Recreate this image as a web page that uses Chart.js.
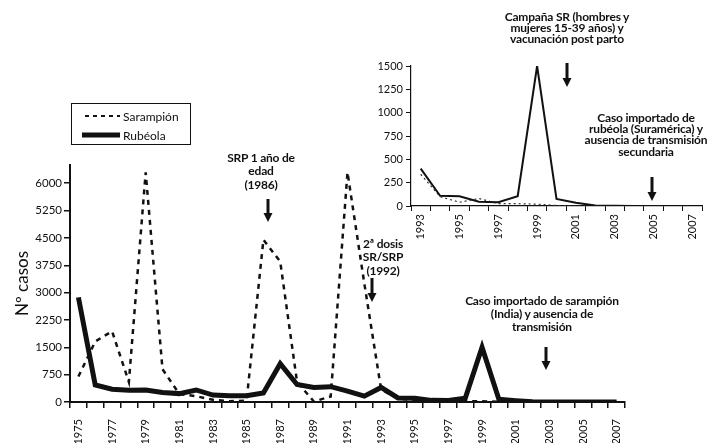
<!DOCTYPE html>
<html>
<head>
<meta charset="utf-8">
<script src="https://cdn.jsdelivr.net/npm/chart.js@4.4.1/dist/chart.umd.min.js"></script>
<style>
  body { margin: 0; background: #fff; }
  #wrap { position: relative; width: 722px; height: 443px; font-family: Lato, "Open Sans", sans-serif; color: #111; overflow: hidden; }
  #main { position: absolute; left: 0; top: 0; }
  #inset { position: absolute; left: 360px; top: 50px; }
  .note { position: absolute; transform: translateX(-50%); text-align: center; font-weight: bold;
          font-size: 12px; white-space: nowrap; letter-spacing: -0.2px; }
  #legend { position: absolute; left: 71px; top: 103px; width: 118px; height: 40px;
            border: 1.5px solid #111; font-size: 12px; }
  #legend .row { position: absolute; left: 10px; height: 14px; display: flex; align-items: center; }
  #legend svg { margin-right: 3px; }
</style>
</head>
<body>
<div id="wrap">
  <canvas id="main" width="722" height="443"></canvas>
  <canvas id="inset" width="350" height="193"></canvas>

  <div id="legend">
    <div class="row" style="top:5px"><svg width="38" height="6"><line x1="3" y1="3" x2="38" y2="3" stroke="#111" stroke-width="2" stroke-dasharray="4,4"/></svg>Sarampión</div>
    <div class="row" style="top:24px"><svg width="38" height="6"><line x1="0" y1="3" x2="38" y2="3" stroke="#111" stroke-width="5"/></svg>Rubéola</div>
  </div>

  <div class="note" style="left:261px; top:151px; line-height:13.4px;">SRP 1 año de<br>edad<br>(1986)</div>
  <div class="note" style="left:383px; top:237px; line-height:13.3px;">2ª dosis<br>SR/SRP<br>(1992)</div>
  <div class="note" style="left:542px; top:295px; line-height:12.8px;">Caso importado de sarampión<br>(India) y ausencia de<br>transmisión</div>
  <div class="note" style="left:567px; top:12px; line-height:10.8px;">Campaña SR (hombres y<br>mujeres 15-39 años) y<br>vacunación post parto</div>
  <div class="note" style="left:646px; top:112px; line-height:11.2px;">Caso importado de<br>rubéola (Suramérica) y<br>ausencia de transmisión<br>secundaria</div>
</div>

<script>
// years on the main chart
const years = ['1975','1976','1977','1978','1979','1980','1981','1982','1983','1984','1985',
               '1986','1987','1988','1989','1990','1991','1992','1993','1994','1995','1996',
               '1997','1998','1999','2000','2001','2002','2003','2004','2005','2006','2007'];

// cases per year
const sarampion = [700, 1660, 1940, 550, 6300, 900, 220, 160, 60, 20, 40,
                   4450, 3850, 550, 15, 150, 6300, 3250, 340, 100, 40, 80,
                   25, 25, 20, 5, 2, 2, 1, 1, 1, 1, 1];
const rubeola = [2870, 470, 350, 320, 330, 260, 230, 330, 190, 170, 170,
                 250, 1050, 480, 400, 420, 300, 160, 400, 110, 105, 45,
                 40, 105, 1500, 75, 35, 5, 2, 1, 1, 1, 1];

// y tick values
const mainTicks = [0, 750, 1500, 2250, 3000, 3750, 4500, 5250, 6000];
const insetTicks = [0, 250, 500, 750, 1000, 1250, 1500];

// inset covers 1993-2007
const insetStart = years.indexOf('1993');
const insetYears = years.slice(insetStart);
const insetSarampion = sarampion.slice(insetStart);
const insetRubeola = rubeola.slice(insetStart);

const ink = '#111';

// arrows pointing at the vaccination events (x in px, from y1 to y2)
const arrows = [
    { x: 268, y1: 199, y2: 222 },
    { x: 372, y1: 278, y2: 302 },
    { x: 546, y1: 347, y2: 370 },
    { x: 567, y1: 63, y2: 87 },
    { x: 652, y1: 177, y2: 201 }
];

const arrowPlugin = {
    id: 'arrows',
    afterDraw(chart) {
        const ctx = chart.ctx;
        ctx.save();
        ctx.fillStyle = ink;
        ctx.strokeStyle = ink;
        arrows.forEach(a => {
            ctx.lineWidth = 3;
            ctx.beginPath();
            ctx.moveTo(a.x, a.y1);
            ctx.lineTo(a.x, a.y2 - 7);
            ctx.stroke();
            ctx.beginPath();
            ctx.moveTo(a.x - 4.5, a.y2 - 9);
            ctx.lineTo(a.x + 4.5, a.y2 - 9);
            ctx.lineTo(a.x, a.y2);
            ctx.closePath();
            ctx.fill();
        });
        ctx.restore();
    }
};

Chart.defaults.font.family = 'Lato, "Open Sans", sans-serif';
Chart.defaults.color = ink;

// main chart 1975-2007
new Chart(document.getElementById('main'), {
    type: 'line',
    data: {
        labels: years,
        datasets: [
            {
                label: 'Rubéola',
                data: rubeola,
                borderColor: ink,
                borderWidth: 5,
                pointRadius: 0,
                tension: 0,
                borderJoinStyle: 'miter'
            },
            {
                label: 'Sarampión',
                data: sarampion,
                borderColor: ink,
                borderWidth: 2.5,
                borderDash: [5, 5],
                pointRadius: 0,
                tension: 0
            }
        ]
    },
    options: {
        responsive: false,
        animation: false,
        layout: { padding: { left: 0, top: 165, right: 97, bottom: 0 } },
        plugins: { legend: { display: false }, tooltip: { enabled: false } },
        scales: {
            x: {
                offset: true,
                grid: { offset: true, drawOnChartArea: false, drawTicks: true, tickLength: 6, color: ink, lineWidth: 1.5 },
                border: { color: ink, width: 2 },
                ticks: {
                    autoSkip: false,
                    minRotation: 90,
                    maxRotation: 90,
                    padding: 11,
                    font: { size: 11 },
                    callback: (v, i) => i % 2 === 0 ? years[i] : ''
                },
                afterFit: s => { s.height = 41; }
            },
            y: {
                min: 0,
                max: 6500,
                grid: { drawOnChartArea: false, drawTicks: true, tickLength: 6, color: ink, lineWidth: 1.5 },
                border: { color: ink, width: 2 },
                ticks: { padding: 2, font: { size: 11.5 }, callback: v => String(v) },
                afterBuildTicks: s => { s.ticks = mainTicks.map(v => ({ value: v })); },
                title: { display: true, text: 'Nº casos', font: { size: 17 }, padding: { top: 12, bottom: 0 } },
                afterFit: s => { s.width = 70; }
            }
        }
    },
    plugins: [arrowPlugin]
});

// inset 1993-2007
new Chart(document.getElementById('inset'), {
    type: 'line',
    data: {
        labels: insetYears,
        datasets: [
            {
                label: 'Rubéola',
                data: insetRubeola,
                borderColor: ink,
                borderWidth: 2,
                pointRadius: 0,
                tension: 0
            },
            {
                label: 'Sarampión',
                data: insetSarampion,
                borderColor: '#333',
                borderWidth: 1.2,
                borderDash: [2, 3],
                pointRadius: 0,
                tension: 0
            }
        ]
    },
    options: {
        responsive: false,
        animation: false,
        layout: { padding: { left: 0, top: 16, right: 8, bottom: 0 } },
        plugins: { legend: { display: false }, tooltip: { enabled: false } },
        scales: {
            x: {
                offset: true,
                grid: { offset: true, drawOnChartArea: false, drawTicks: true, tickLength: 5, color: ink, lineWidth: 1 },
                border: { color: ink, width: 1.2 },
                ticks: {
                    autoSkip: false,
                    minRotation: 90,
                    maxRotation: 90,
                    padding: 3,
                    font: { size: 11 },
                    callback: (v, i) => i % 2 === 0 ? insetYears[i] : ''
                },
                afterFit: s => { s.height = 37; }
            },
            y: {
                min: 0,
                max: 1500,
                grid: { drawOnChartArea: false, drawTicks: true, tickLength: 5, color: ink, lineWidth: 1 },
                border: { color: ink, width: 1.2 },
                ticks: { padding: 3, font: { size: 11 }, callback: v => String(v) },
                afterBuildTicks: s => { s.ticks = insetTicks.map(v => ({ value: v })); },
                afterFit: s => { s.width = 51; }
            }
        }
    }
});
</script>
</body>
</html>
